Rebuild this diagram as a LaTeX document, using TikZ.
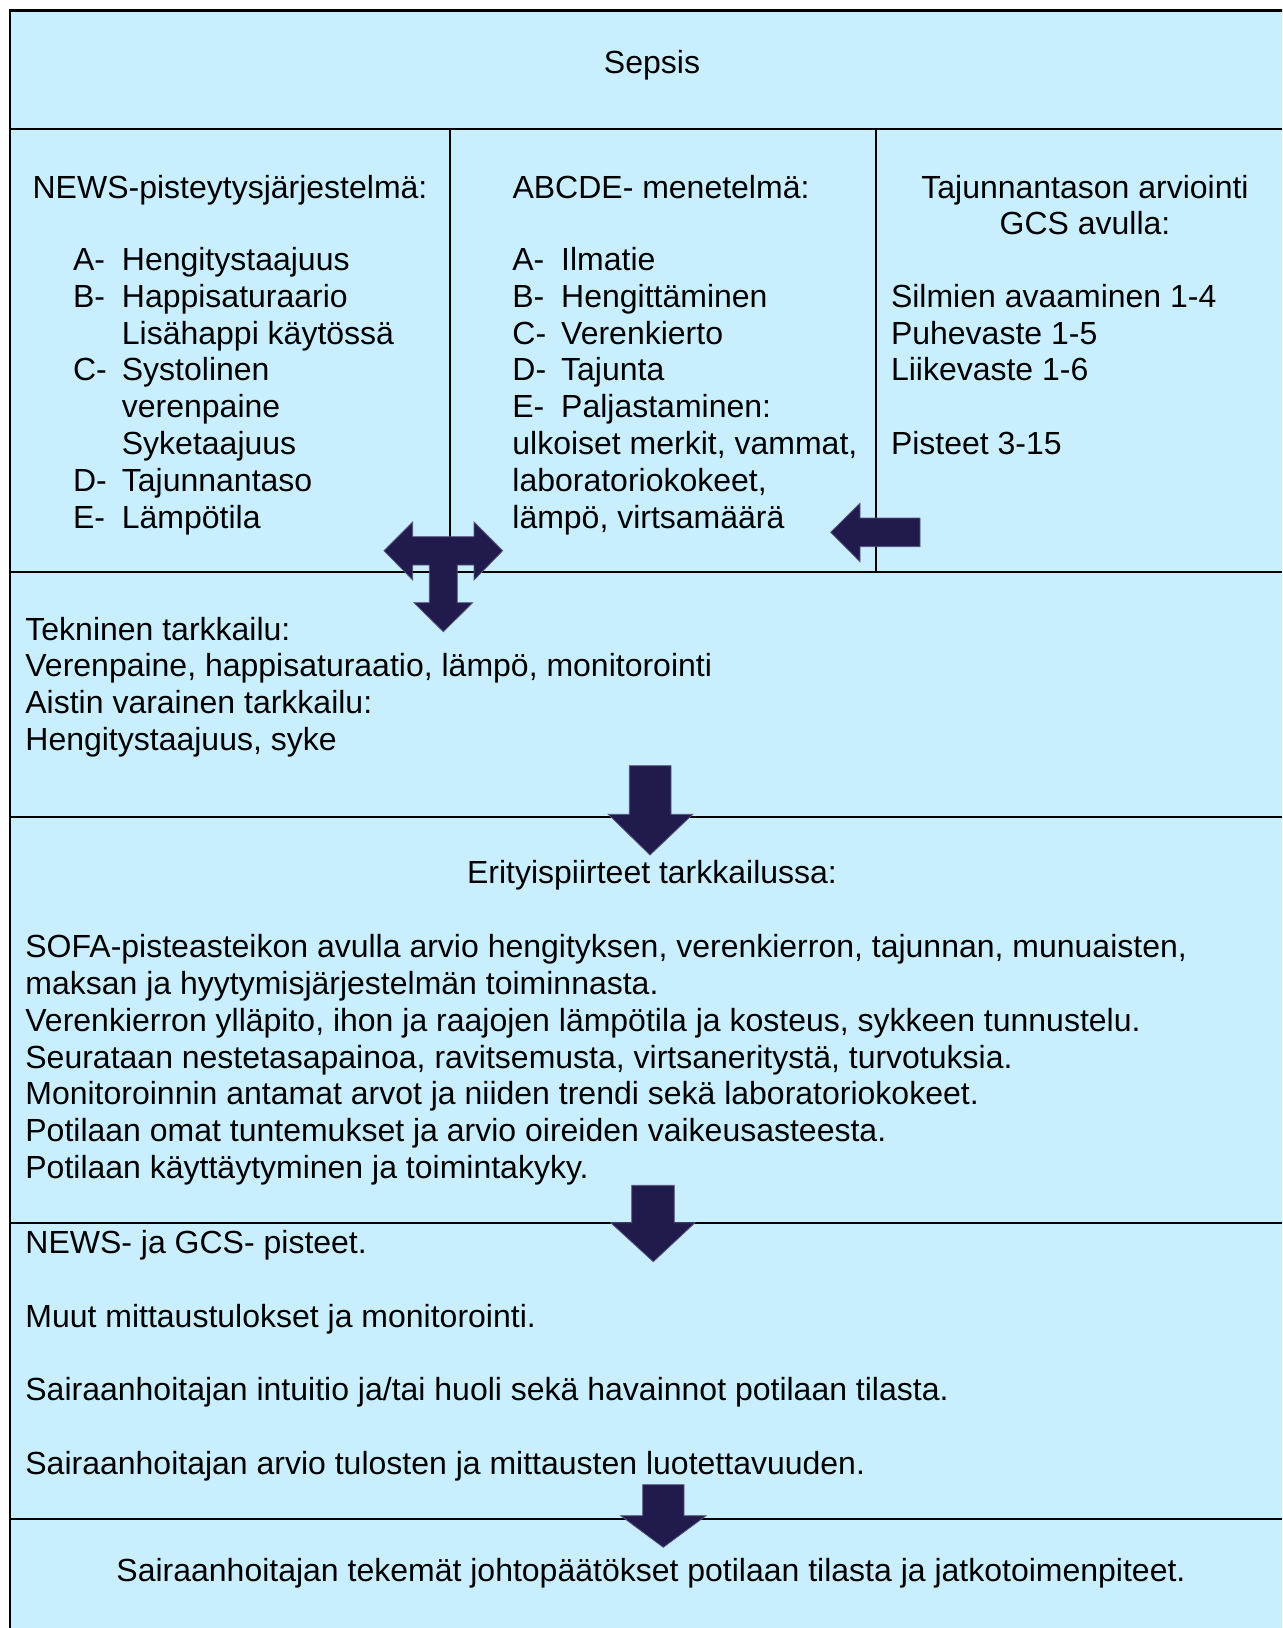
\documentclass[tikz,border=0pt]{standalone}
\usepackage{fontspec}
\setmainfont{Liberation Sans}
\definecolor{cellblue}{RGB}{201,239,255}
\definecolor{arrowink}{RGB}{33,27,77}
\newcommand{\lbl}[1]{\makebox[24.4pt][l]{#1}}

\begin{document}
\begin{tikzpicture}[x=0.5pt, y=-0.5pt,
  txt/.style={inner sep=0pt, align=left, anchor=base west,
              font=\fontsize{16}{18.4}\selectfont},
  ctxt/.style={inner sep=0pt, align=center, anchor=base,
               font=\fontsize{16}{18.4}\selectfont},
  rule/.style={line width=1pt},
  blockarrow/.style={fill=arrowink, draw=arrowink!75!white, line width=0.4pt}]
\useasboundingbox (0,0) rectangle (1282,1628);
\clip (0,0) rectangle (1282,1628);
% table frame
\fill[cellblue] (10,10) rectangle (1290,1640);
\draw[line width=1.1pt] (1290,10.5) -- (10,10.5) -- (10,1640);
\foreach \y in {129,571.5,816.5,1222.5,1519}
  \draw[rule] (10,\y) -- (1282,\y);
\foreach \x in {450,876}
  \draw[line width=0.8pt] (\x,129) -- (\x,571.5);

% texts (multi-line nodes sit on the baseline of their last line)
\node[ctxt] (title) at (652,73) {Sepsis};
\node[ctxt] (newshead) at (230,198) {NEWS-pisteytysjärjestelmä:};
\node[txt] (newslist) at (72.7,528.1) {\lbl{A-}Hengitystaajuus\\
  \lbl{B-}Happisaturaario\\ \lbl{}Lisähappi käytössä\\
  \lbl{C-}Systolinen\\ \lbl{}verenpaine\\ \lbl{}Syketaajuus\\
  \lbl{D-}Tajunnantaso\\ \lbl{E-}Lämpötila};
\node[ctxt] (abcdehead) at (661,198) {ABCDE- menetelmä:};
\node[txt] (abcdelist) at (512,528.1) {\lbl{A-}Ilmatie\\
  \lbl{B-}Hengittäminen\\ \lbl{C-}Verenkierto\\ \lbl{D-}Tajunta\\
  \lbl{E-}Paljastaminen:\\ ulkoiset merkit, vammat,\\
  laboratoriokokeet,\\ lämpö, virtsamäärä};
\node[ctxt] (gcshead) at (1085,234.8) {Tajunnantason arviointi\\GCS avulla:};
\node[txt] (gcslist) at (890.6,454.5) {Silmien avaaminen 1-4\\
  Puhevaste 1-5\\ Liikevaste 1-6\\[18.4pt] Pisteet 3-15};
\node[txt] (monitor) at (25,750.4) {Tekninen tarkkailu:\\
  Verenpaine, happisaturaatio, lämpö, monitorointi\\
  Aistin varainen tarkkailu:\\ Hengitystaajuus, syke};
\node[ctxt] (special) at (652,883) {Erityispiirteet tarkkailussa:};
\node[txt] (speciallist) at (25,1178.5) {SOFA-pisteasteikon avulla arvio hengityksen, verenkierron, tajunnan, munuaisten,\\
  maksan ja hyytymisjärjestelmän toiminnasta.\\
  Verenkierron ylläpito, ihon ja raajojen lämpötila ja kosteus, sykkeen tunnustelu.\\
  Seurataan nestetasapainoa, ravitsemusta, virtsaneritystä, turvotuksia.\\
  Monitoroinnin antamat arvot ja niiden trendi sekä laboratoriokokeet.\\
  Potilaan omat tuntemukset ja arvio oireiden vaikeusasteesta.\\
  Potilaan käyttäytyminen ja toimintakyky.};
\node[txt] (scores) at (25,1474.3) {NEWS- ja GCS- pisteet.\\[18.4pt]
  Muut mittaustulokset ja monitorointi.\\[18.4pt]
  Sairaanhoitajan intuitio ja/tai huoli sekä havainnot potilaan tilasta.\\[18.4pt]
  Sairaanhoitajan arvio tulosten ja mittausten luotettavuuden.};
\node[ctxt] (decision) at (651,1581.5) {Sairaanhoitajan tekemät johtopäätökset potilaan tilasta ja jatkotoimenpiteet.};

% block arrows
\filldraw[blockarrow] (384,550.7) -- (412.7,522) -- (412.7,536.7) -- (474,536.7)
  -- (474,522) -- (502.7,550.7) -- (474,580) -- (474,565) -- (457.3,565)
  -- (457.3,602.7) -- (472.7,602.7) -- (443.3,631.7) -- (414,602.7) -- (429.3,602.7)
  -- (429.3,565) -- (412.7,565) -- (412.7,580) -- cycle;
\filldraw[blockarrow] (830.7,532.3) -- (860,503.3) -- (860,518) -- (920,518)
  -- (920,546.7) -- (860,546.7) -- (860,561.7) -- cycle;
\filldraw[blockarrow] (629.3,765.7) -- (671,765.7) -- (671,814.3) -- (692.7,814.3)
  -- (650,855) -- (608.3,814.3) -- (629.3,814.3) -- cycle;
\filldraw[blockarrow] (631.7,1185.3) -- (674.3,1185.3) -- (674.3,1222.7) -- (695,1222.7)
  -- (653.3,1261.7) -- (610.7,1222.7) -- (631.7,1222.7) -- cycle;
\filldraw[blockarrow] (642.7,1484.7) -- (684,1484.7) -- (684,1515.7) -- (706,1515.7)
  -- (663.3,1547.3) -- (620.7,1515.7) -- (642.7,1515.7) -- cycle;
\end{tikzpicture}
\end{document}
